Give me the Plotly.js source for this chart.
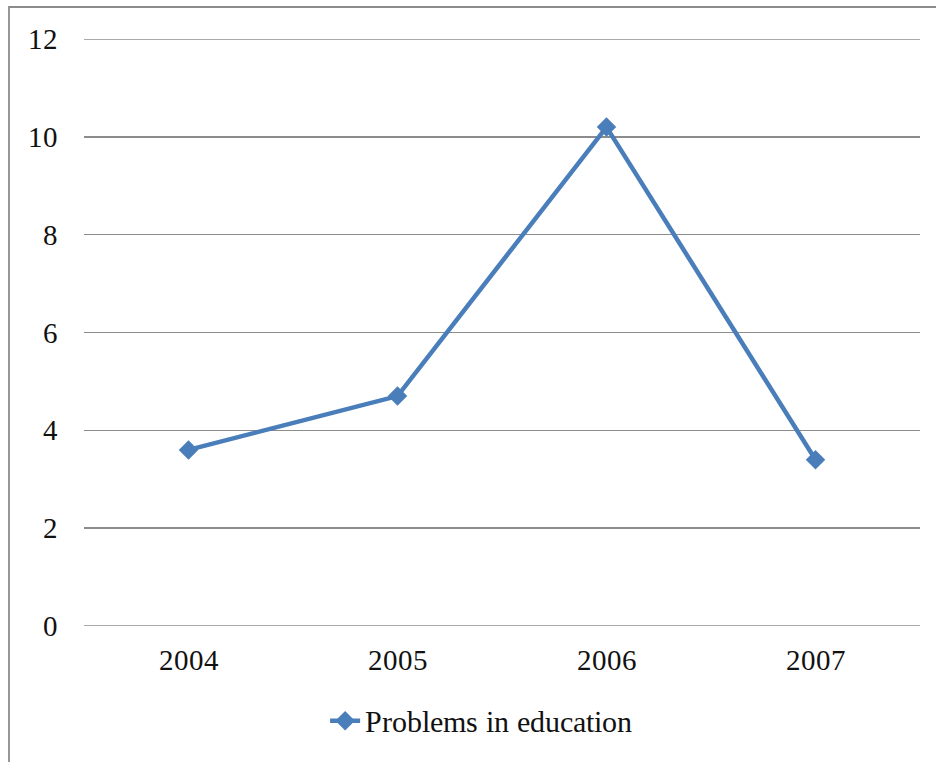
<!DOCTYPE html>
<html>
<head>
<meta charset="utf-8">
<script src="https://cdn.plot.ly/plotly-3.0.1.min.js"></script>
<style>
  @font-face {
    font-family: 'ChartSerif';
    src: local('Liberation Serif'), local('LiberationSerif'), local('LiberationSerif-Regular');
  }
  body { margin: 0; background: #fff; font-family: 'ChartSerif', serif; }
</style>
</head>
<body>
<div id="chart"></div>
<script>
const years = ['2004', '2005', '2006', '2007'];
const problemsInEducation = [3.6, 4.7, 10.2, 3.4];
const yTicks = [0, 2, 4, 6, 8, 10, 12];

const fam = 'ChartSerif';
const W = 936, H = 762;
const margin = { l: 84, r: 16, t: 39, b: 136 };
const plotW = W - margin.l - margin.r;
const plotH = H - margin.t - margin.b;
const gridColor = '#8c8c8c';
const textColor = '#111';

const trace = {
  x: years,
  y: problemsInEducation,
  type: 'scatter',
  mode: 'lines+markers',
  name: 'Problems in education',
  line: { color: '#4A7EBB', width: 4.5 },
  marker: { symbol: 'diamond', size: 15, color: '#4A7EBB' }
};

// horizontal rule at the bottom and top of the value range
const edgeLines = [yTicks[0], yTicks[yTicks.length - 1]].map(v => ({
  type: 'line', xref: 'paper', yref: 'y',
  x0: 0, x1: 1, y0: v, y1: v,
  line: { color: gridColor, width: 1.6 },
  layer: 'below'
}));

const layout = {
  width: W,
  height: H,
  margin: margin,
  paper_bgcolor: '#fff',
  plot_bgcolor: '#fff',
  font: { family: fam, size: 28, color: textColor },
  showlegend: true,
  legend: {
    orientation: 'h',
    x: 0.475, xanchor: 'center',
    y: -0.117, yanchor: 'top',
    font: { family: fam, size: 30, color: textColor }
  },
  xaxis: {
    type: 'category',
    range: [-0.5, 3.5],
    showgrid: false,
    zeroline: false,
    showline: false,
    ticks: '',
    ticklabelstandoff: 14,
    tickfont: { family: fam, size: 29, color: textColor }
  },
  yaxis: {
    range: [0, 12],
    tickvals: yTicks,
    ticktext: yTicks.map(String),
    showgrid: true,
    gridcolor: gridColor,
    gridwidth: 1.6,
    zeroline: false,
    showline: false,
    ticks: '',
    ticklabelstandoff: 25,
    tickfont: { family: fam, size: 29, color: textColor }
  },
  shapes: edgeLines.concat([
    {
      type: 'rect', xref: 'paper', yref: 'paper',
      x0: (9 - margin.l) / plotW, x1: 2,
      y0: -2, y1: (H - margin.b - 7) / plotH,
      line: { color: gridColor, width: 1.8 },
      fillcolor: 'rgba(0,0,0,0)',
      layer: 'below'
    }
  ])
};

function draw() {
  return Plotly.newPlot('chart', [trace], layout, { staticPlot: true });
}

// load the serif face before laying out the labels
if (document.fonts && document.fonts.load) {
  document.fonts.load('29px ChartSerif').then(draw, draw);
} else {
  draw();
}
</script>
</body>
</html>
